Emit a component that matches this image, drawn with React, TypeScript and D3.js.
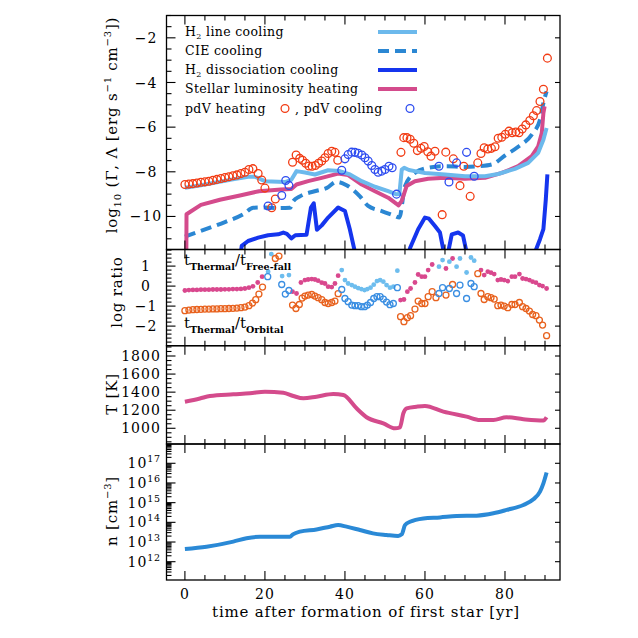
import React from 'react';
import * as d3 from 'd3';

// ---------------- DATA ----------------
// top panel: log10 heating / cooling rates
const h2LineT = [0, 4, 8, 12, 15.8, 17.5, 20, 25, 26.6, 27.9, 30, 32.5, 35.8, 38.5, 41.25, 44.2, 47.5, 50.8, 52.9, 53.6, 54.2, 54.8, 56, 57.5, 60, 65, 70, 75, 78.3, 82.5, 85.8, 88.3, 89.6, 90.4];
const h2LineV = [-8.71, -8.6, -8.47, -8.34, -8.22, -8.22, -8.42, -8.46, -8.36, -7.97, -8.03, -8.12, -7.93, -7.96, -8.12, -8.42, -8.67, -8.87, -9.01, -9.0, -7.9, -7.82, -7.92, -7.97, -8.05, -8.12, -8.2, -8.2, -8.1, -7.87, -7.6, -7.15, -6.56, -6.04];

const cieT = [0, 6.25, 10, 14.6, 17.1, 20, 23, 26.3, 27.1, 28.75, 32.9, 35.5, 37.9, 40.4, 43.75, 45.8, 49.2, 52.5, 53.6, 55, 57.5, 60.8, 65, 70, 73.3, 76.7, 80, 83.3, 86.7, 88.75, 89.6, 90.4];
const cieV = [-10.9, -10.5, -10.25, -9.9, -9.61, -9.6, -9.62, -9.61, -9.31, -9.1, -8.85, -8.72, -8.45, -8.6, -9.1, -9.53, -9.76, -9.98, -10.05, -8.64, -8.05, -7.82, -7.75, -7.78, -7.75, -7.67, -7.27, -6.88, -6.33, -5.67, -4.92, -4.4];

const dissT = [13.5, 14.2, 15.8, 18.3, 20.8, 23.3, 24.6, 25.5, 26.6, 27.6, 30.4, 31.5, 32.2, 33.0, 34.2, 35.8, 38.3, 40, 41.25, 42.5, 43.5, 55, 56.3, 58.3, 60, 61, 62.5, 63.75, 64.6, 65.2, 65.8, 66.7, 68.3, 69.5, 70.4, 71.2, 86.5, 87.5, 88.75, 89.6, 90.2, 90.6];
const dissV = [-12.3, -11.32, -11.1, -10.95, -10.84, -10.8, -10.72, -10.78, -10.98, -10.84, -10.82, -9.6, -9.41, -10.6, -10.4, -10.05, -9.6, -9.76, -10.6, -11.6, -12.3, -12.3, -11.4, -10.57, -10.05, -10.1, -10.43, -10.72, -11.5, -12.3, -11.6, -10.8, -10.72, -10.85, -11.6, -12.3, -12.3, -11.6, -11.02, -10.57, -9.24, -8.12];

const stellarT = [0.35, 0.4, 4, 8.75, 13.75, 18.5, 24, 26.6, 27.9, 30.8, 34.2, 38.3, 40.8, 44.2, 47.5, 50.8, 53.4, 54.2, 55.4, 57.5, 60.8, 65, 70, 75, 79.2, 83.3, 86.7, 88.3, 89.2, 89.6, 89.9];
const stellarV = [-12, -9.9, -9.48, -9.25, -9.06, -8.87, -8.79, -8.77, -8.57, -8.42, -8.27, -8.08, -8.15, -8.57, -8.87, -9.16, -9.5, -9.3, -8.64, -8.42, -8.31, -8.27, -8.31, -8.27, -8.05, -7.75, -7.3, -6.86, -6.26, -5.37, -5.07];

const pdvHeatT = [0, 1, 2, 3, 4, 5, 6, 7, 8, 9, 10, 11, 12, 13, 14, 15, 16, 17, 18.3, 19.2, 20, 21.7, 22.6, 26.9, 27.8, 28.7, 29.4, 30.2, 31, 31.8, 32.6, 33.4, 34.2, 35, 35.8, 36.7, 37.5, 38.2, 54, 54.7, 55.5, 56.3, 57.2, 58.1, 59, 59.8, 60.7, 61.5, 62.5, 64.3, 65.2, 67.1, 68.75, 69.7, 71.3, 73.2, 74, 74.8, 75.7, 76.6, 77.5, 78.3, 79.2, 80.1, 81, 81.8, 82.7, 83.5, 84.3, 85.2, 86.2, 87.1, 87.9, 88.75, 89.6, 90.6];
const pdvHeatV = [-8.57, -8.55, -8.53, -8.5, -8.47, -8.45, -8.42, -8.38, -8.34, -8.3, -8.26, -8.22, -8.18, -8.14, -8.08, -8.02, -7.9, -7.86, -8.08, -8.37, -8.73, -9.61, -9.22, -7.57, -7.25, -7.4, -7.48, -7.62, -7.74, -7.75, -7.72, -7.62, -7.52, -7.37, -7.18, -7.08, -7.13, -7.48, -7.13, -6.47, -6.47, -6.54, -6.72, -7.05, -6.95, -6.87, -7.1, -7.3, -7.08, -9.92, -7.12, -7.42, -8.62, -7.75, -9.1, -7.6, -7.18, -6.92, -6.98, -6.95, -6.88, -6.5, -6.45, -6.32, -6.18, -6.25, -6.22, -6.25, -6.08, -5.9, -5.7, -5.49, -5.26, -4.85, -4.3, -2.91];

const pdvCoolT = [20.8, 24.2, 25.2, 26.0, 39.2, 40, 40.8, 41.7, 42.5, 43.3, 44.2, 45, 45.8, 46.7, 47.5, 48.3, 49.2, 50, 51, 51.8, 52.9, 63.5, 66, 67.9, 70.4, 72.3];
const pdvCoolV = [-9.53, -9.06, -8.39, -8.61, -7.93, -7.42, -7.23, -7.12, -7.13, -7.17, -7.25, -7.37, -7.52, -7.72, -7.9, -8.02, -7.97, -7.9, -7.75, -7.82, -9.0, -7.75, -8.46, -7.6, -7.13, -8.2];

// ratio panel
const ffHeatT = [0, 1, 2, 3, 4, 5, 6, 7, 8, 9, 10, 11, 12, 13, 14, 15, 16, 17, 18.2, 19.3, 26.9, 27.9, 29, 30, 30.8, 31.7, 32.5, 33.3, 34.2, 35, 35.8, 36.7, 37.5, 38.3, 53.9, 54.75, 55.6, 56.4, 57.5, 58.3, 59.2, 60, 60.8, 61.8, 65.25, 66.9, 74, 74.8, 75.7, 76.5, 77.3, 78.2, 79, 79.8, 80.7, 81.7, 82.5, 83.6, 84.4, 85.25, 86.1, 86.9, 87.75, 88.6, 89.4, 90.4];
const ffHeatV = [-0.22, -0.2, -0.19, -0.19, -0.18, -0.18, -0.18, -0.17, -0.17, -0.17, -0.16, -0.16, -0.15, -0.15, -0.14, -0.12, -0.08, -0.01, 0.18, 0.47, -0.28, -0.37, 0.18, 0.3, 0.33, 0.35, 0.33, 0.27, 0.17, 0.13, -0.03, -0.05, 0.13, 0.52, -0.7, -0.67, -0.28, -0.12, 0.18, 0.58, 0.47, 0.47, 0.8, 1.08, 0.88, 1.38, 0.8, 0.55, 0.72, 0.67, 0.6, 0.3, 0.33, 0.3, 0.25, 0.47, 0.47, 0.6, 0.38, 0.35, 0.3, 0.22, 0.17, 0.05, 0, -0.12];

const orbHeatT = [0, 1, 2, 3, 4, 5, 6, 7, 8, 9, 10, 11, 12, 13, 14, 15, 16, 16.9, 17.7, 18.5, 19.4, 22.6, 23.5, 26.9, 27.75, 28.6, 29.3, 30, 30.8, 31.7, 32.5, 33.3, 34.2, 35, 35.8, 36.7, 37.5, 38.3, 53.9, 54.75, 55.6, 56.4, 57.5, 58.3, 59.2, 60, 60.8, 61.8, 62.75, 65.25, 66.9, 73.2, 74, 74.8, 75.7, 76.5, 77.3, 78.2, 79, 79.8, 80.7, 81.7, 82.5, 83.6, 84.4, 85.25, 86.1, 86.9, 87.75, 88.6, 89.4, 90.4];
const orbHeatV = [-1.23, -1.2, -1.18, -1.17, -1.16, -1.15, -1.15, -1.14, -1.14, -1.13, -1.13, -1.12, -1.11, -1.1, -1.08, -1.05, -0.98, -0.85, -0.68, -0.4, -0.05, 1.38, 1.5, -0.95, -1.12, -0.92, -0.6, -0.5, -0.45, -0.42, -0.5, -0.58, -0.68, -0.82, -0.87, -0.82, -0.75, -0.38, -1.53, -1.78, -1.58, -1.48, -1.15, -0.75, -0.87, -0.87, -0.53, -0.28, -0.58, -0.45, 0.08, 0.62, -0.37, -0.67, -0.53, -0.58, -0.65, -0.98, -0.95, -1.0, -1.08, -0.92, -0.92, -0.82, -1.03, -1.12, -1.25, -1.42, -1.48, -1.7, -1.95, -2.48];

const ffCoolT = [20.8, 21.6, 24.3, 26.0, 39.2, 40, 40.8, 41.7, 42.5, 43.3, 44.1, 44.9, 45.6, 46.4, 47.2, 48, 48.8, 49.6, 50.4, 51.25, 52.1, 53.1, 63.5, 64.4, 66.1, 67.9, 68.75, 70.4, 71.5, 72.3];
const ffCoolV = [0.72, 1.6, 0.5, 0.55, 0.8, 0.3, 0.13, 0.05, -0.03, -0.1, -0.15, -0.2, -0.15, -0.08, 0.07, 0.25, 0.3, 0.22, 0.05, -0.08, -0.03, 0.77, 0.97, 1.3, 1.22, 0.97, 1.38, 0.68, 1.43, 1.27];

const orbCoolT = [20.7, 24.2, 25.1, 26.0, 39.2, 40, 40.8, 41.7, 42.5, 43.3, 44.1, 44.9, 45.6, 46.4, 47.2, 48, 48.8, 49.6, 50.4, 51.25, 52.1, 53.1, 63.5, 64.4, 66.1, 67.9, 68.75, 70.4, 71.5, 72.3];
const orbCoolV = [0.47, 0.08, -0.4, -0.22, -0.17, -0.62, -0.78, -0.95, -0.98, -0.98, -1.03, -1.03, -0.95, -0.82, -0.62, -0.53, -0.53, -0.65, -0.8, -0.93, -0.87, -0.08, -0.37, -0.08, -0.12, -0.37, 0.05, -0.62, 0.13, -0.03];

// temperature panel
const tempT = [0, 3.75, 6.25, 12.1, 16.25, 20, 24.6, 27.1, 29.6, 32.9, 37.1, 39.6, 42.9, 45.4, 49.6, 52.5, 53.75, 54.6, 55.4, 57.9, 60, 64.6, 70.4, 73.75, 77.1, 80.4, 84.6, 89.6, 90.4];
const tempV = [1294, 1330, 1357, 1376, 1387, 1405, 1394, 1357, 1331, 1350, 1379, 1368, 1221, 1122, 1055, 1000, 1011, 1166, 1221, 1239, 1247, 1184, 1129, 1092, 1092, 1122, 1100, 1085, 1122];

// density panel (log10 n)
const densT = [0, 5.4, 12.1, 15.4, 18.75, 22.1, 26.25, 27, 28.75, 32.9, 36.25, 38.3, 40.4, 43.75, 47, 50.4, 53.3, 54.2, 55, 56.25, 59.6, 63.75, 67.9, 72.9, 77.1, 80.4, 84.6, 87.1, 88.75, 89.6, 90.4];
const densLog = [12.64, 12.76, 13.02, 13.19, 13.27, 13.27, 13.27, 13.39, 13.53, 13.64, 13.78, 13.86, 13.78, 13.61, 13.44, 13.36, 13.31, 13.39, 13.86, 14.03, 14.2, 14.25, 14.32, 14.34, 14.46, 14.63, 14.88, 15.17, 15.56, 15.98, 16.53];

// ticks
const xMajor = [0, 20, 40, 60, 80];
const xMinor = [5, 10, 15, 25, 30, 35, 45, 50, 55, 65, 70, 75, 85, 90];
const topTicks = [-10, -8, -6, -4, -2];
const ratioTicks = [-2, -1, 0, 1];
const tempTicks = [1000, 1200, 1400, 1600, 1800];
const densTicks = [12, 13, 14, 15, 16, 17];

// ---------------- LAYOUT ----------------
const X0 = 166.5, X1 = 560;
const P1: [number, number] = [15.5, 249.5];
const P2: [number, number] = [249.5, 345.7];
const P3: [number, number] = [345.7, 444];
const P4: [number, number] = [444, 580];
const FONT = "'DejaVu Serif', serif";

const x = d3.scaleLinear().domain([-4.6, 93.75]).range([X0, X1]);
const yTop = d3.scaleLinear().domain([-11.48, -1]).range([P1[1], P1[0]]);
const yRat = d3.scaleLinear().domain([-2.98, 1.83]).range([P2[1], P2[0]]);
const yTem = d3.scaleLinear().domain([826, 1914]).range([P3[1], P3[0]]);
const yDen = d3.scaleLog().domain([Math.pow(10, 11.07), Math.pow(10, 17.98)]).range([P4[1], P4[0]]);

const C = {
  h2: '#6cb9ec',
  cie: '#2b87d3',
  diss: '#1535ee',
  star: '#d44b8c',
  heat: '#f23c14',
  cool: '#2d4cf0',
  pink: '#d9488e',
  lblue: '#6dbdee',
  orange: '#e8621e',
  mblue: '#3a8ee2',
  dens: '#2a89d6',
};

const zip = (t: number[], v: number[]) => t.map((tt, i) => [tt, v[i]] as [number, number]);

function linePath(t: number[], v: number[], ys: (n: number) => number, curve = d3.curveMonotoneX) {
  return d3.line<[number, number]>().x(d => x(d[0])).y(d => ys(d[1])).curve(curve)(zip(t, v)) || '';
}

function XTicks({ top, bottom }: { top: number; bottom: number }) {
  return (
    <g stroke="#000" strokeWidth={1.1}>
      {xMajor.map(t => (
        <g key={'M' + t}>
          <line x1={x(t)} x2={x(t)} y1={top} y2={top + 9} />
          <line x1={x(t)} x2={x(t)} y1={bottom} y2={bottom - 9} />
        </g>
      ))}
      {xMinor.map(t => (
        <g key={'m' + t}>
          <line x1={x(t)} x2={x(t)} y1={top} y2={top + 5} />
          <line x1={x(t)} x2={x(t)} y1={bottom} y2={bottom - 5} />
        </g>
      ))}
    </g>
  );
}

function YTicks({ major, minor, ys }: { major: number[]; minor: number[]; ys: (n: number) => number }) {
  return (
    <g stroke="#000" strokeWidth={1.1}>
      {major.map(v => (
        <g key={'M' + v}>
          <line x1={X0} x2={X0 + 9} y1={ys(v)} y2={ys(v)} />
          <line x1={X1} x2={X1 - 5} y1={ys(v)} y2={ys(v)} />
        </g>
      ))}
      {minor.map(v => (
        <line key={'m' + v} x1={X0} x2={X0 + 5} y1={ys(v)} y2={ys(v)} />
      ))}
    </g>
  );
}

const range = (a: number, b: number, s: number) => {
  const out: number[] = [];
  for (let v = a; v <= b + 1e-9; v += s) out.push(+v.toFixed(4));
  return out;
};

export default function App() {
  const topMinor = range(-11, -1, 0.5).filter(v => !topTicks.includes(v));
  const ratMinor = range(-2.8, 1.8, 0.2).filter(v => !ratioTicks.some(m => Math.abs(m - v) < 1e-6));
  const temMinor = range(850, 1900, 50).filter(v => !tempTicks.includes(v));
  const denMinor: number[] = [];
  for (let d = 11; d <= 17; d++) for (let k = 2; k <= 9; k++) {
    const l = d + Math.log10(k);
    if (l > 11.07 && l < 17.98) denMinor.push(Math.pow(10, l));
  }
  const denMajor = densTicks.map(d => Math.pow(10, d));

  const tickLabel = { fontFamily: FONT, fontSize: 14, letterSpacing: 1 } as const;

  return (
    <svg width={638} height={638} style={{ display: 'block', position: 'absolute', left: 0, top: 0 }} fontFamily={FONT}>
      <rect width={638} height={638} fill="#fff" />
      <defs>
        <clipPath id="c1"><rect x={X0} y={P1[0]} width={X1 - X0} height={P1[1] - P1[0]} /></clipPath>
        <clipPath id="c2"><rect x={X0} y={P2[0]} width={X1 - X0} height={P2[1] - P2[0]} /></clipPath>
      </defs>

      {/* ---------- top panel ---------- */}
      <g clipPath="url(#c1)" fill="none" strokeLinejoin="round">
        <path d={linePath(dissT, dissV, yTop, d3.curveLinear)} stroke={C.diss} strokeWidth={4} />
        <path d={linePath(cieT, cieV, yTop)} stroke={C.cie} strokeWidth={4} strokeDasharray="11,6" />
        <path d={linePath(stellarT, stellarV, yTop, d3.curveLinear)} stroke={C.star} strokeWidth={4} />
        <path d={linePath(h2LineT, h2LineV, yTop, d3.curveLinear)} stroke={C.h2} strokeWidth={4} />
        {pdvHeatT.map((t, i) => (
          <circle key={'h' + i} cx={x(t)} cy={yTop(pdvHeatV[i])} r={3.9} fill="none" stroke={C.heat} strokeWidth={1.3} />
        ))}
        {pdvCoolT.map((t, i) => (
          <circle key={'c' + i} cx={x(t)} cy={yTop(pdvCoolV[i])} r={3.9} fill="none" stroke={C.cool} strokeWidth={1.3} />
        ))}
      </g>
      {/* legend */}
      <g fontSize={12.5} letterSpacing={0.35} fill="#000">
        <text x={185} y={36}>H<tspan fontSize={8} dy={3}>2</tspan><tspan dy={-3}> line cooling</tspan></text>
        <text x={185} y={55}>CIE cooling</text>
        <text x={185} y={74}>H<tspan fontSize={8} dy={3}>2</tspan><tspan dy={-3}> dissociation cooling</tspan></text>
        <text x={185} y={93}>Stellar luminosity heating</text>
        <text x={185} y={113}>pdV heating</text>
        <text x={295} y={113}>, pdV cooling</text>
      </g>
      <line x1={378} x2={417} y1={32} y2={32} stroke={C.h2} strokeWidth={4} />
      <line x1={378} x2={417} y1={51} y2={51} stroke={C.cie} strokeWidth={4} strokeDasharray="11,6" />
      <line x1={378} x2={417} y1={70} y2={70} stroke={C.diss} strokeWidth={4} />
      <line x1={378} x2={417} y1={89} y2={89} stroke={C.star} strokeWidth={4} />
      <circle cx={285} cy={108.5} r={3.9} fill="none" stroke={C.heat} strokeWidth={1.3} />
      <circle cx={410} cy={108.5} r={3.9} fill="none" stroke={C.cool} strokeWidth={1.3} />

      {/* ---------- ratio panel ---------- */}
      <g clipPath="url(#c2)">
        {ffHeatT.map((t, i) => <circle key={'p' + i} cx={x(t)} cy={yRat(ffHeatV[i])} r={2.4} fill={C.pink} />)}
        {ffCoolT.map((t, i) => <circle key={'l' + i} cx={x(t)} cy={yRat(ffCoolV[i])} r={2.4} fill={C.lblue} />)}
        {orbHeatT.map((t, i) => <circle key={'o' + i} cx={x(t)} cy={yRat(orbHeatV[i])} r={3} fill="none" stroke={C.orange} strokeWidth={1.3} />)}
        {orbCoolT.map((t, i) => <circle key={'b' + i} cx={x(t)} cy={yRat(orbCoolV[i])} r={3} fill="none" stroke={C.mblue} strokeWidth={1.3} />)}
      </g>
      <text x={184} y={265} fontSize={15}>t<tspan fontSize={9.5} fontWeight="bold" dy={5}>Thermal</tspan><tspan dy={-5}>/t</tspan><tspan fontSize={9.5} fontWeight="bold" dy={5}>Free-fall</tspan></text>
      <text x={184} y={328} fontSize={15}>t<tspan fontSize={9.5} fontWeight="bold" dy={5}>Thermal</tspan><tspan dy={-5}>/t</tspan><tspan fontSize={9.5} fontWeight="bold" dy={5}>Orbital</tspan></text>

      {/* ---------- temperature panel ---------- */}
      <path d={linePath(tempT, tempV, yTem)} fill="none" stroke={C.star} strokeWidth={4} strokeLinejoin="round" />

      {/* ---------- density panel ---------- */}
      <path d={d3.line<[number, number]>().x(d => x(d[0])).y(d => yDen(Math.pow(10, d[1]))).curve(d3.curveMonotoneX)(zip(densT, densLog)) || ''}
        fill="none" stroke={C.dens} strokeWidth={4} strokeLinejoin="round" />

      {/* ---------- frames & ticks ---------- */}
      {[P1, P2, P3, P4].map((p, i) => (
        <g key={i}>
          <rect x={X0} y={p[0]} width={X1 - X0} height={p[1] - p[0]} fill="none" stroke="#000" strokeWidth={1.3} />
          <XTicks top={p[0]} bottom={p[1]} />
        </g>
      ))}
      <YTicks major={topTicks} minor={topMinor} ys={yTop} />
      <YTicks major={ratioTicks} minor={ratMinor} ys={yRat} />
      <YTicks major={tempTicks} minor={temMinor} ys={yTem} />
      <YTicks major={denMajor} minor={denMinor} ys={(v: number) => yDen(v)} />

      {/* tick labels */}
      <g {...tickLabel} textAnchor="middle">
        {topTicks.map(v => <text key={v} x={146} y={yTop(v)} dy="0.36em">{'\u2212' + Math.abs(v)}</text>)}
        {ratioTicks.map(v => <text key={v} x={146} y={yRat(v)} dy="0.36em">{(v < 0 ? '\u2212' : '') + Math.abs(v)}</text>)}
        {tempTicks.map(v => <text key={v} x={141} y={yTem(v)} dy="0.36em">{v}</text>)}
        {densTicks.map(d => (
          <text key={d} x={144} y={yDen(Math.pow(10, d))} dy="0.36em">10<tspan fontSize={9.5} dy={-6} letterSpacing={0.5}>{d}</tspan></text>
        ))}
        {xMajor.map(t => <text key={t} x={x(t)} y={599}>{t}</text>)}
      </g>

      {/* axis titles */}
      <g fontSize={15} letterSpacing={0.8} textAnchor="middle">
        <text transform="translate(117,125) rotate(-90)">log<tspan fontSize={10} dy={4}>10</tspan><tspan dy={-4}> (Γ, Λ [erg s</tspan><tspan fontSize={10} dy={-6}>−1</tspan><tspan dy={6}> cm</tspan><tspan fontSize={10} dy={-6}>−3</tspan><tspan dy={6}>])</tspan></text>
        <text transform="translate(122,292) rotate(-90)">log ratio</text>
        <text transform="translate(117,394) rotate(-90)">T [K]</text>
        <text transform="translate(117,511) rotate(-90)">n [cm<tspan fontSize={10} dy={-6}>−3</tspan><tspan dy={6}>]</tspan></text>
        <text x={366} y={617}>time after formation of first star [yr]</text>
      </g>
    </svg>
  );
}
